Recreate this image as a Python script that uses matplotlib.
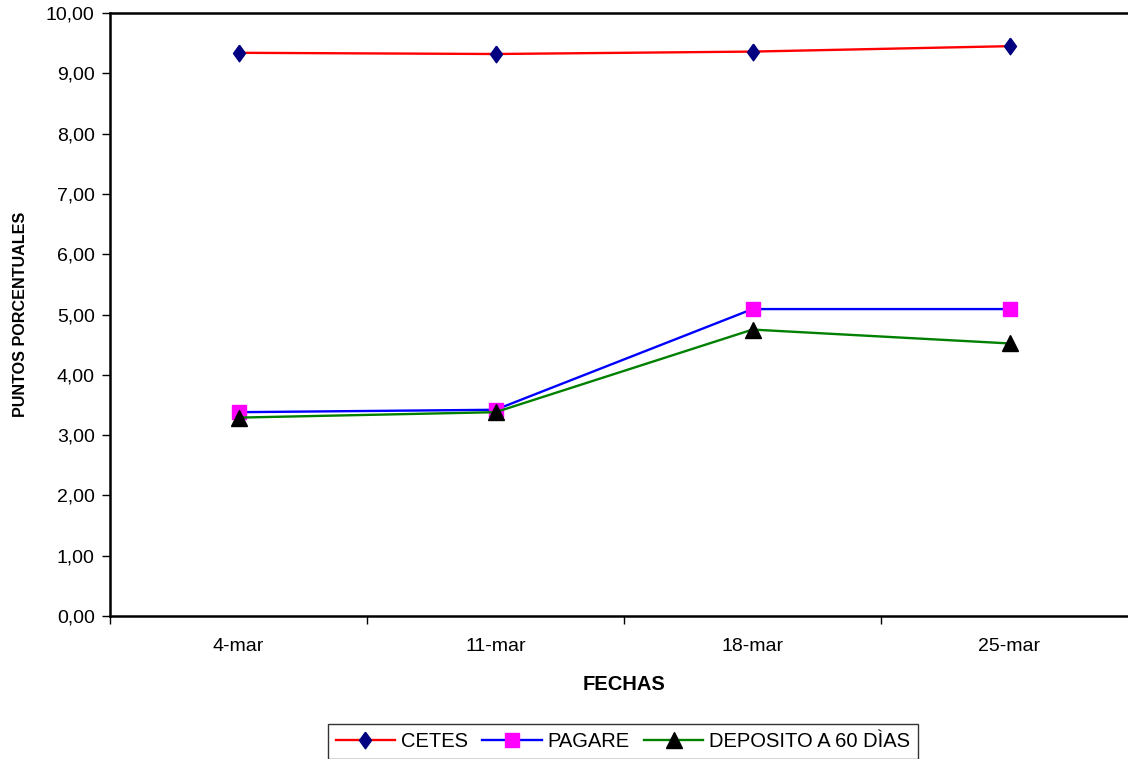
import numpy as np
import matplotlib.pyplot as plt
from matplotlib.ticker import FuncFormatter, FixedLocator

plt.rcParams['font.family'] = ['Liberation Sans', 'DejaVu Sans']

fechas = ["4-mar", "11-mar", "18-mar", "25-mar"]
cetes = [9.34, 9.32, 9.36, 9.45]
pagare = [3.38, 3.42, 5.09, 5.09]
deposito = [3.29, 3.38, 4.75, 4.52]

fig = plt.figure(figsize=(11.28, 7.59), dpi=100)
# el area del grafico se sale por la derecha
ax = fig.add_axes([110 / 1128, 143 / 759, 1028 / 1128, 603 / 759])

# rombo algo alargado
rombo = [(0, 1), (0.72, 0), (0, -1), (-0.72, 0), (0, 1)]

x = np.arange(len(fechas))
ax.plot(x, cetes, color='#ff0000', lw=1.7, marker=rombo, ms=12,
        mfc='#000080', mec='#000080', label="CETES")
ax.plot(x, pagare, color='#0000ff', lw=1.7, marker='s', ms=10.5,
        mfc='#ff00ff', mec='#ff00ff', label="PAGARE")
ax.plot(x, deposito, color='#008000', lw=1.7, marker='^', ms=11,
        mfc='black', mec='black', label="DEPOSITO A 60 DÌAS")

ax.set_xlim(-0.5, len(fechas) - 0.5)
ax.set_ylim(0, 10)
ax.set_yticks(np.arange(0, 11, 1))
ax.yaxis.set_major_formatter(FuncFormatter(lambda v, p: f"{v:.2f}".replace('.', ',')))

# ticks entre categorias, etiquetas centradas
ax.set_xticks(x)
ax.set_xticklabels(fechas)
ax.xaxis.set_minor_locator(FixedLocator(np.arange(-0.5, len(fechas), 1)))
ax.tick_params(axis='x', which='major', length=0, pad=16, labelsize=14)
ax.tick_params(axis='x', which='minor', length=6, width=1, direction='out')
ax.tick_params(axis='y', length=6, width=1, direction='out', labelsize=14, pad=5)

for s in ax.spines.values():
    s.set_linewidth(1.8)
    s.set_color('black')

ax.set_xlabel("FECHAS", fontsize=14.5, fontweight='bold', labelpad=14)
ax.set_ylabel("PUNTOS PORCENTUALES", fontsize=11.6, fontweight='bold', labelpad=13)

leg = fig.legend(loc='upper center', bbox_to_anchor=(623 / 1128, 1 - 724 / 759),
                 ncol=3, frameon=True, fancybox=False, fontsize=14.5,
                 handlelength=2.95, handletextpad=0.3, columnspacing=0.7,
                 borderpad=0.4, borderaxespad=0)
leg.get_frame().set_edgecolor('black')
leg.get_frame().set_linewidth(1)

fig.savefig("out.png", dpi=100)
